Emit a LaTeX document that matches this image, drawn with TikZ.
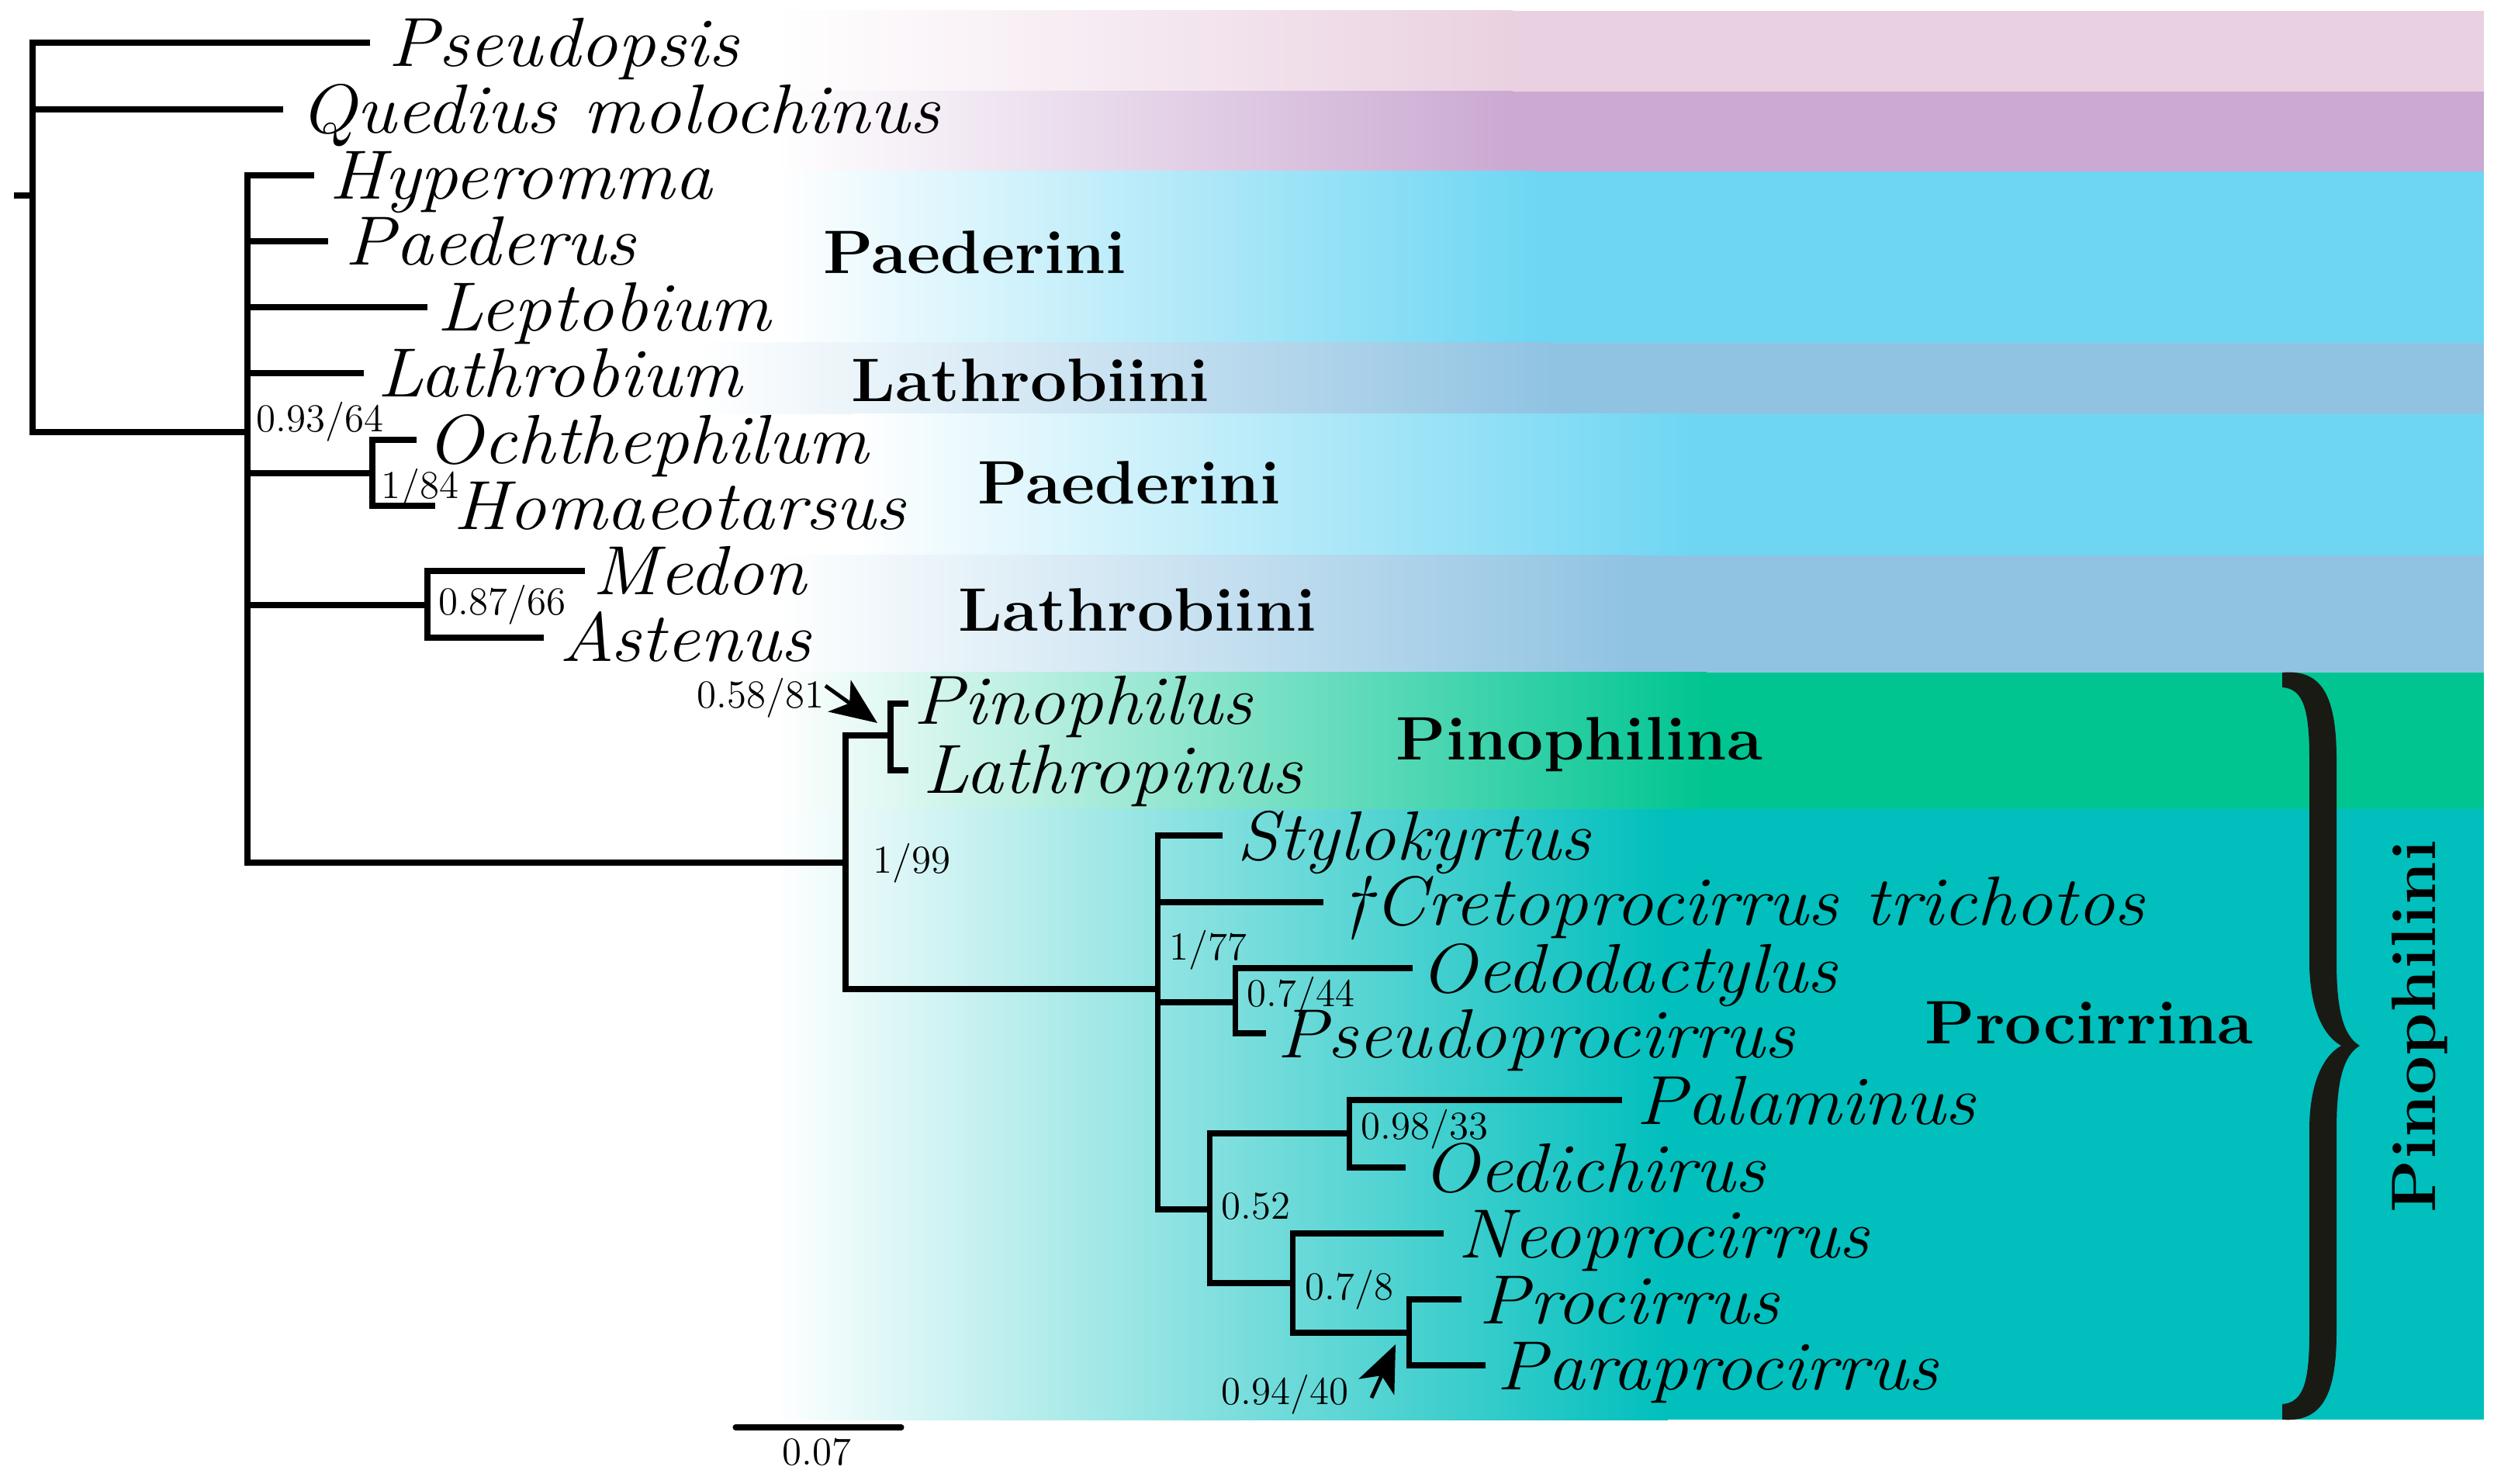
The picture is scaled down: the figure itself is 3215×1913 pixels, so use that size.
\documentclass[tikz,border=0pt]{standalone}
\usetikzlibrary{arrows.meta}
\definecolor{cpink}{RGB}{234,209,225}
\definecolor{cpurp}{RGB}{203,169,210}
\definecolor{ccyan}{RGB}{110,214,243}
\definecolor{cslate}{RGB}{144,195,226}
\definecolor{cgreen}{RGB}{0,197,145}
\definecolor{cteal}{RGB}{0,191,189}
\definecolor{cbrace}{RGB}{26,26,20}
\newcommand\mybandfill[5]{%
  \shade[left color=white,middle color=#5!35!white,right color=#5] (#1,#3) rectangle (#2,#4);
  \fill[#5] (#2,#3) rectangle (3202,#4);}
\begin{document}
\begin{tikzpicture}[x=0.01cm,y=-0.01cm,
  taxon/.style={anchor=base west,inner sep=0pt,xscale=1.085,font=\fontsize{25.5}{29}\selectfont\itshape},
  grp/.style={anchor=base west,inner sep=0pt,xscale=1.06,font=\fontsize{22.5}{26}\selectfont\bfseries},
  grprot/.style={anchor=base,inner sep=0pt,rotate=90,font=\fontsize{23}{26}\selectfont\bfseries},
  supp/.style={anchor=base west,inner sep=0pt,font=\fontsize{14.5}{16}\selectfont},
  br/.style={line width=2pt},
  pointer/.style={line width=1.4pt,-{Stealth[length=0.6cm,width=0.5cm,inset=0.16cm]}}]
\fill[white] (0,0) rectangle (3215,1913);
\path[use as bounding box] (0,0) rectangle (3215,1913);
% bands
\mybandfill{1000}{1950}{14}{118}{cpink}
\mybandfill{1000}{1950}{118}{221}{cpurp}
\mybandfill{1000}{1980}{221}{442}{ccyan}
\mybandfill{900}{2000}{442}{534}{cslate}
\mybandfill{1100}{2180}{534}{716}{ccyan}
\mybandfill{1000}{2100}{716}{867}{cslate}
\mybandfill{1000}{2200}{867}{1043}{cgreen}
\mybandfill{1000}{2150}{1043}{1830}{cteal}
% internal nodes
\coordinate (stub) at (18,252);
\coordinate (root) at (42,252);
\coordinate (ingroup) at (319,557);
\coordinate (ochhom) at (480,610);
\coordinate (medast) at (551,780);
\coordinate (pinophilini) at (1090,1112);
\coordinate (pinophilina) at (1148,948);
\coordinate (procirrina) at (1492,1275);
\coordinate (oedpse) at (1592,1292);
\coordinate (lower) at (1559,1559);
\coordinate (paloed) at (1739,1461);
\coordinate (neopro) at (1666,1654);
\coordinate (propar) at (1816,1718);
% tips
\coordinate (tPseudopsis) at (477,55);
\coordinate (tQuedius) at (365,141);
\coordinate (tHyperomma) at (405,226);
\coordinate (tPaederus) at (423,311);
\coordinate (tLeptobium) at (551,396);
\coordinate (tLathrobium) at (469,481);
\coordinate (tOchthephilum) at (537,567);
\coordinate (tHomaeotarsus) at (561,652);
\coordinate (tMedon) at (754,736);
\coordinate (tAstenus) at (701,822);
\coordinate (tPinophilus) at (1171,907);
\coordinate (tLathropinus) at (1171,993);
\coordinate (tStylokyrtus) at (1576,1077);
\coordinate (tCreto) at (1706,1163);
\coordinate (tOedodactylus) at (1821,1248);
\coordinate (tPseudoprocirrus) at (1632,1332);
\coordinate (tPalaminus) at (2091,1418);
\coordinate (tOedichirus) at (1812,1505);
\coordinate (tNeoprocirrus) at (1861,1590);
\coordinate (tProcirrus) at (1884,1675);
\coordinate (tParaprocirrus) at (1915,1760);
% tree
\draw[br] (stub) -- (root);
\draw[br] (root) |- (tPseudopsis);
\draw[br] (root) |- (tQuedius);
\draw[br] (root) |- (ingroup);
\draw[br] (ingroup) |- (tHyperomma);
\draw[br] (ingroup) |- (tPaederus);
\draw[br] (ingroup) |- (tLeptobium);
\draw[br] (ingroup) |- (tLathrobium);
\draw[br] (ingroup) |- (ochhom);
\draw[br] (ingroup) |- (medast);
\draw[br] (ingroup) |- (pinophilini);
\draw[br] (ochhom) |- (tOchthephilum);
\draw[br] (ochhom) |- (tHomaeotarsus);
\draw[br] (medast) |- (tMedon);
\draw[br] (medast) |- (tAstenus);
\draw[br] (pinophilini) |- (pinophilina);
\draw[br] (pinophilini) |- (procirrina);
\draw[br] (pinophilina) |- (tPinophilus);
\draw[br] (pinophilina) |- (tLathropinus);
\draw[br] (procirrina) |- (tStylokyrtus);
\draw[br] (procirrina) |- (tCreto);
\draw[br] (procirrina) |- (oedpse);
\draw[br] (procirrina) |- (lower);
\draw[br] (oedpse) |- (tOedodactylus);
\draw[br] (oedpse) |- (tPseudoprocirrus);
\draw[br] (lower) |- (paloed);
\draw[br] (lower) |- (neopro);
\draw[br] (paloed) |- (tPalaminus);
\draw[br] (paloed) |- (tOedichirus);
\draw[br] (neopro) |- (tNeoprocirrus);
\draw[br] (neopro) |- (propar);
\draw[br] (propar) |- (tProcirrus);
\draw[br] (propar) |- (tParaprocirrus);
% taxon labels
\node[taxon] (nPseudopsis) at (500,86) {Pseudopsis};
\node[taxon] (nQuedius) at (386,172) {Quedius molochinus};
\node[taxon] (nHyperomma) at (424,257) {Hyperomma};
\node[taxon] (nPaederus) at (444,342) {Paederus};
\node[taxon] (nLeptobium) at (563,427) {Leptobium};
\node[taxon] (nLathrobium) at (486,512) {Lathrobium};
\node[taxon] (nOchthephilum) at (549,598) {Ochthephilum};
\node[taxon] (nHomaeotarsus) at (584,683) {Homaeotarsus};
\node[taxon] (nMedon) at (763,767) {Medon};
\node[taxon] (nAstenus) at (721,853) {Astenus};
\node[taxon] (nPinophilus) at (1177,934) {Pinophilus};
\node[taxon] (nLathropinus) at (1189,1022) {Lathropinus};
\node[taxon] (nStylokyrtus) at (1594,1108) {Stylokyrtus};
\node[taxon] (nCreto) at (1727,1192) {\textdagger Cretoprocirrus trichotos};
\node[taxon] (nOedodactylus) at (1830,1279) {Oedodactylus};
\node[taxon] (nPseudoprocirrus) at (1646,1363) {Pseudoprocirrus};
\node[taxon] (nPalaminus) at (2109,1449) {Palaminus};
\node[taxon] (nOedichirus) at (1833,1536) {Oedichirus};
\node[taxon] (nNeoprocirrus) at (1879,1621) {Neoprocirrus};
\node[taxon] (nProcirrus) at (1906,1706) {Procirrus};
\node[taxon] (nParaprocirrus) at (1929,1791) {Paraprocirrus};
% group labels
\node[grp] (gPaed1) at (1061,353) {Paederini};
\node[grp] (gLath1) at (1097,518) {Lathrobiini};
\node[grp] (gPaed2) at (1260,650) {Paederini};
\node[grp] (gLath2) at (1235,814) {Lathrobiini};
\node[grp] (gPinophilina) at (1799,980) {Pinophilina};
\node[grp] (gProcirrina) at (2481,1345) {Procirrina};
\node[grprot] (gPinophilini) at (3139,1323) {\scalebox{1.1}[1]{Pinophilini}};
% brace
\fill[cbrace] (2942,867) .. controls (2995,862) and (3012,900) .. (3012,980)
  -- (3012,1240) .. controls (3012,1300) and (3020,1335) .. (3042,1348)
  .. controls (3020,1361) and (3012,1396) .. (3012,1456)
  -- (3012,1716) .. controls (3012,1796) and (2995,1834) .. (2942,1830)
  -- (2942,1810) .. controls (2970,1808) and (2977,1780) .. (2977,1716)
  -- (2977,1456) .. controls (2977,1400) and (2993,1362) .. (3018,1348)
  .. controls (2993,1334) and (2977,1296) .. (2977,1240)
  -- (2977,980) .. controls (2977,916) and (2970,888) .. (2942,886) -- cycle;
% support values
\node[supp] (s1) at (330,557) {0.93/64};
\node[supp] (s2) at (491,643) {1/84};
\node[supp] (s3) at (565,793) {0.87/66};
\node[supp] (s4) at (898,913) {0.58/81};
\node[supp] (s5) at (1125,1125) {1/99};
\node[supp] (s6) at (1507,1237) {1/77};
\node[supp] (s7) at (1607,1297) {0.7/44};
\node[supp] (s8) at (1754,1468) {0.98/33};
\node[supp] (s9) at (1574,1571) {0.52};
\node[supp] (s10) at (1682,1675) {0.7/8};
\node[supp] (s11) at (1574,1810) {0.94/40};
% pointer arrows
\coordinate (a1s) at (1064,884);
\coordinate (a1e) at (1131,932);
\coordinate (a2s) at (1768,1802);
\coordinate (a2e) at (1799,1733);
\draw[pointer] (a1s) -- (a1e);
\draw[pointer] (a2s) -- (a2e);
% scale bar
\coordinate (sbL) at (948,1840);
\coordinate (sbR) at (1162,1840);
\draw[br,line cap=round] (sbL) -- (sbR);
\node[supp,anchor=base] (sbLabel) at (1053,1888) {0.07};
\end{tikzpicture}
\end{document}
